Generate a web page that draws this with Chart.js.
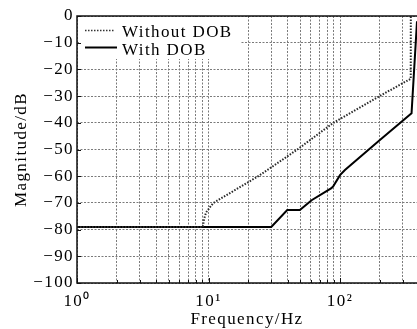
<!DOCTYPE html>
<html>
<head>
<meta charset="utf-8">
<script src="https://cdn.jsdelivr.net/npm/chart.js@4.4.1/dist/chart.umd.min.js"></script>
<style>
  html, body { margin: 0; padding: 0; background: #fff; }
</style>
</head>
<body>
<canvas id="bodeChart" width="417" height="329"></canvas>
<script>
const withoutFreq = [1, 9.05, 9.25, 9.6, 10.3, 10.9, 23.9, 47.4, 89, 200, 345, 345.5];
const withoutMag  = [-79, -79, -76, -73.5, -71.5, -70, -60, -50, -40, -30, -23.5, 0];
const withFreq = [1, 30, 39.7, 49.5, 60.8, 86, 89, 100, 109, 201, 350, 385];
const withMag  = [-79, -79, -72.7, -72.7, -69, -64.5, -63.7, -59.6, -57.7, -46.4, -36.4, -2];

const xTickValues = [1, 2, 3, 4, 5, 6, 7, 8, 9, 10, 20, 30, 40, 50, 60, 70, 80, 90, 100, 200, 300];
const xDecades = [1, 10, 100];
const xTickLabels = ['10\u2070', '10\u00b9', '10\u00b2'];
const yTickValues = [0, -10, -20, -30, -40, -50, -60, -70, -80, -90, -100];
const yTickLabels = ['0', '\u221210', '\u221220', '\u221230', '\u221240', '\u221250', '\u221260', '\u221270', '\u221280', '\u221290', '\u2212100'];
const seriesNames = ['Without DOB', 'With DOB'];

const serif = "'Liberation Serif', 'Times New Roman', serif";

function toPoints(xs, ys) {
  return xs.map((x, i) => ({ x: x, y: ys[i] }));
}

const framePlugin = {
  id: 'frame',
  beforeUpdate(chart) { chart.ctx.letterSpacing = '1.4px'; },
  beforeDraw(chart) { chart.ctx.letterSpacing = '1.4px'; },
  afterDraw(chart) {
    const { ctx, chartArea: a, scales } = chart;
    const x = scales.x, y = scales.y;
    ctx.save();

    // legend, white box in the upper left corner
    ctx.fillStyle = '#fff';
    ctx.fillRect(a.left + 2, a.top + 1, 162, 42);
    ctx.lineWidth = 1.5;
    ctx.strokeStyle = '#333';
    ctx.setLineDash([1.5, 1.5]);
    ctx.beginPath();
    ctx.moveTo(a.left + 8, a.top + 14.5);
    ctx.lineTo(a.left + 38, a.top + 14.5);
    ctx.stroke();
    ctx.setLineDash([]);
    ctx.strokeStyle = '#000';
    ctx.lineWidth = 2;
    ctx.beginPath();
    ctx.moveTo(a.left + 8, a.top + 31.5);
    ctx.lineTo(a.left + 40, a.top + 31.5);
    ctx.stroke();
    ctx.fillStyle = '#000';
    ctx.font = '17px ' + serif;
    ctx.textAlign = 'left';
    ctx.textBaseline = 'alphabetic';
    ctx.fillText(seriesNames[0], a.left + 45, a.top + 21);
    ctx.fillText(seriesNames[1], a.left + 45, a.top + 39);

    // frame
    ctx.strokeStyle = '#111';
    ctx.lineWidth = 1.5;
    ctx.beginPath();
    ctx.moveTo(a.right + 1, a.top);
    ctx.lineTo(a.left, a.top);
    ctx.lineTo(a.left, a.bottom);
    ctx.lineTo(a.right + 1, a.bottom);
    ctx.stroke();

    // inward ticks
    ctx.lineWidth = 1;
    ctx.beginPath();
    yTickValues.forEach(v => {
      const py = Math.round(y.getPixelForValue(v)) + 0.5;
      ctx.moveTo(a.left, py);
      ctx.lineTo(a.left + 4, py);
    });
    xTickValues.forEach(v => {
      const px = Math.round(x.getPixelForValue(v)) + 0.5;
      const len = xDecades.includes(v) ? 5 : 3;
      ctx.moveTo(px, a.bottom);
      ctx.lineTo(px, a.bottom - len);
    });
    ctx.stroke();
    ctx.restore();
  }
};

const ctx = document.getElementById('bodeChart').getContext('2d');

new Chart(ctx, {
  type: 'line',
  data: {
    datasets: [
      {
        label: seriesNames[0],
        data: toPoints(withoutFreq, withoutMag),
        borderColor: '#2a2a2a',
        borderWidth: 2,
        borderDash: [1.5, 1.5],
        pointRadius: 0,
        fill: false,
        tension: 0
      },
      {
        label: seriesNames[1],
        data: toPoints(withFreq, withMag),
        borderColor: '#000',
        borderWidth: 2,
        pointRadius: 0,
        fill: false,
        tension: 0
      }
    ]
  },
  options: {
    responsive: false,
    animation: false,
    devicePixelRatio: 1,
    layout: { padding: { top: 16, right: 0, bottom: 0, left: 0 } },
    plugins: {
      legend: { display: false },
      tooltip: { enabled: false }
    },
    scales: {
      x: {
        type: 'logarithmic',
        position: 'bottom',
        min: 1,
        max: 385,
        afterBuildTicks: (scale) => {
          scale.ticks = xTickValues.map(v => ({ value: v }));
        },
        afterFit: (scale) => { scale.height = 46; },
        ticks: {
          autoSkip: false,
          maxRotation: 0,
          padding: 8,
          color: '#000',
          font: { family: serif, size: 17 },
          callback: (value) => {
            const i = xDecades.indexOf(Number(value));
            return i >= 0 ? xTickLabels[i] : '';
          }
        },
        grid: { color: '#7a7a7a', lineWidth: 1, drawTicks: false },
        border: { display: false, dash: [2, 1.5] },
        title: {
          display: true,
          text: 'Frequency/Hz',
          color: '#000',
          font: { family: serif, size: 17, lineHeight: 1 },
          padding: { top: 0, bottom: 1 }
        }
      },
      y: {
        min: -100,
        max: 0,
        afterFit: (scale) => { scale.width = 77; },
        ticks: {
          stepSize: 10,
          padding: 3,
          color: '#000',
          font: { family: serif, size: 17 },
          callback: (value) => {
            const i = yTickValues.indexOf(Number(value));
            return i >= 0 ? yTickLabels[i] : '';
          }
        },
        grid: { color: '#7a7a7a', lineWidth: 1, drawTicks: false },
        border: { display: false, dash: [2, 1.5] },
        title: {
          display: true,
          text: 'Magnitude/dB',
          color: '#000',
          font: { family: serif, size: 17 },
          padding: { top: 11, bottom: 0 }
        }
      }
    }
  },
  plugins: [framePlugin]
});
</script>
</body>
</html>
